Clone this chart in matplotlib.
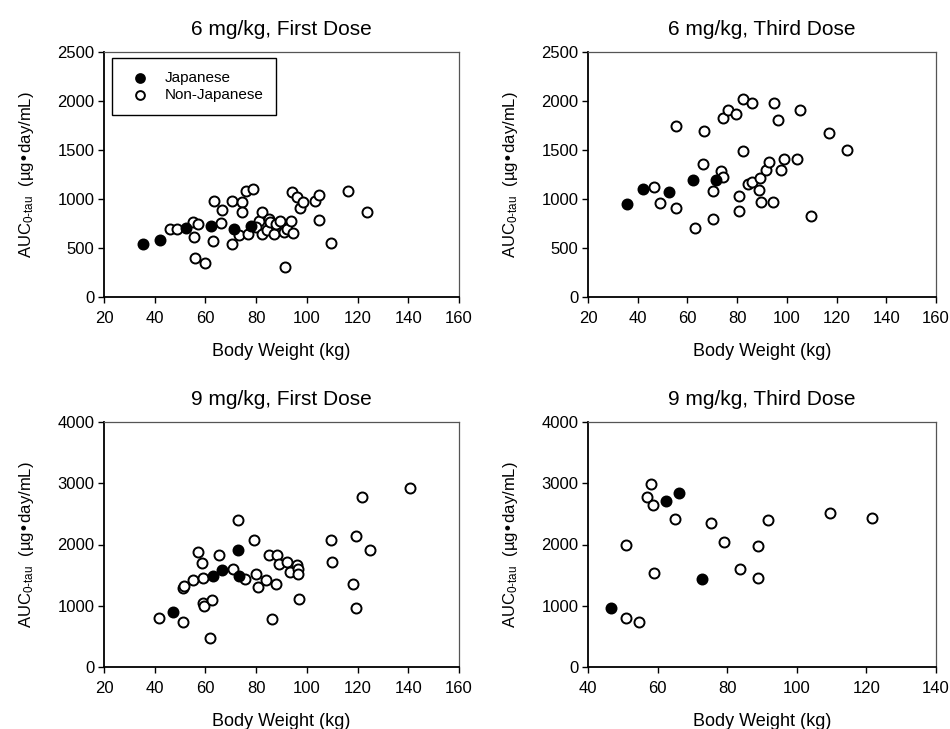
import matplotlib
matplotlib.use('Agg')
import matplotlib.pyplot as plt

plt.rcParams['font.family'] = ['Liberation Sans', 'DejaVu Sans']
plt.rcParams['mathtext.default'] = 'regular'

# 6 mg/kg, first dose
jp_w_6a = [35.4, 42.2, 52.4, 62.0, 71.4, 77.9]
jp_auc_6a = [537, 585, 707, 724, 697, 724]
nj_w_6a = [46.1, 48.8, 55.0, 57.1, 55.3, 55.8, 60.0, 63.1, 63.5, 66.5, 66.0, 70.3,
           70.3, 73.3, 74.6, 74.4, 75.9, 78.9, 76.9, 81.0, 82.3, 80.1, 82.2, 84.1,
           85.1, 85.5, 87.1, 88.0, 89.3, 91.0, 91.2, 92.3, 93.9, 94.6, 94.2, 96.2,
           97.1, 98.4, 103.1, 104.7, 104.7, 109.5, 116.2, 123.8]
nj_auc_6a = [697, 697, 765, 741, 612, 401, 347, 571, 976, 891, 755, 544,
             976, 636, 969, 864, 1081, 1098, 639, 772, 867, 714, 639, 687,
             799, 768, 639, 748, 775, 663, 306, 697, 775, 653, 1071, 1020,
             911, 966, 976, 1037, 789, 551, 1085, 867]

# 6 mg/kg, third dose
jp_w_6c = [35.5, 42.2, 52.4, 62.1, 71.5]
jp_auc_6c = [948, 1098, 1067, 1194, 1194]
nj_w_6c = [46.5, 48.9, 55.3, 55.3, 63.1, 66.1, 66.6, 70.4, 70.4, 73.4, 74.4, 74.4,
           76.3, 79.5, 80.6, 80.9, 82.4, 82.4, 84.4, 85.9, 85.9, 88.7, 89.2, 89.6,
           91.5, 92.7, 94.3, 94.9, 96.6, 97.7, 98.9, 103.9, 105.4, 109.9, 116.8, 124.0]
nj_auc_6c = [1118, 955, 907, 1749, 699, 1354, 1698, 1084, 801, 1286, 1221, 1831,
             1913, 1869, 1026, 876, 1490, 2022, 1156, 1176, 1981, 1091, 1217, 965,
             1299, 1381, 965, 1978, 1804, 1299, 1405, 1412, 1910, 822, 1671, 1497]

# 9 mg/kg, first dose
jp_w_9a = [47.3, 62.8, 66.5, 73.0, 73.1]
jp_auc_9a = [903, 1485, 1578, 1904, 1485]
nj_w_9a = [41.7, 51.3, 51.3, 51.5, 55.0, 57.2, 58.6, 58.9, 59.2, 59.4, 62.6, 61.8,
           65.2, 71.0, 73.0, 75.6, 79.2, 79.8, 80.8, 83.7, 85.2, 86.2, 87.7, 88.1,
           89.0, 92.0, 93.3, 96.3, 96.6, 96.6, 97.0, 109.5, 110.0, 118.3, 119.3,
           119.3, 121.9, 124.8, 140.6]
nj_auc_9a = [805, 729, 1295, 1316, 1414, 1877, 1697, 1458, 1044, 1001, 1099, 479,
             1822, 1605, 2394, 1442, 2078, 1523, 1306, 1425, 1822, 783, 1349, 1822,
             1686, 1714, 1550, 1659, 1599, 1523, 1110, 2067, 1714, 1349, 968,
             2132, 2769, 1915, 2921]

# 9 mg/kg, third dose
jp_w_9c = [46.7, 62.3, 66.1, 72.9]
jp_auc_9c = [968, 2709, 2845, 1431]
nj_w_9c = [51.0, 51.0, 54.6, 57.0, 58.1, 58.7, 59.1, 65.1, 75.4, 79.0, 83.7, 88.8,
           88.8, 91.7, 109.6, 121.5]
nj_auc_9c = [1991, 805, 734, 2774, 2981, 2644, 1534, 2421, 2350, 2040, 1599, 1969,
             1452, 2404, 2519, 2437]

titles = ['6 mg/kg, First Dose', '6 mg/kg, Third Dose',
          '9 mg/kg, First Dose', '9 mg/kg, Third Dose']

W, H = 950, 729
fig = plt.figure(figsize=(W / 100, H / 100), dpi=100)


def add_ax(l, t, r, b):
    return fig.add_axes([l / W, 1 - b / H, (r - l) / W, (b - t) / H])


axes = [add_ax(104, 52, 459, 297), add_ax(588, 52, 936, 297),
        add_ax(104, 422, 459, 667), add_ax(588, 422, 936, 667)]

panels = [(jp_w_6a, jp_auc_6a, nj_w_6a, nj_auc_6a),
          (jp_w_6c, jp_auc_6c, nj_w_6c, nj_auc_6c),
          (jp_w_9a, jp_auc_9a, nj_w_9a, nj_auc_9a),
          (jp_w_9c, jp_auc_9c, nj_w_9c, nj_auc_9c)]

for i, (ax, (jw, ja, nw, na)) in enumerate(zip(axes, panels)):
    ax.scatter(nw, na, s=52, facecolor='white', edgecolor='black', linewidth=1.4,
               zorder=3, label='Non-Japanese')
    ax.scatter(jw, ja, s=52, facecolor='black', edgecolor='black', linewidth=1.4,
               zorder=4, label='Japanese')
    if i < 2:
        ax.set_ylim(0, 2500)
        ax.set_yticks(range(0, 2501, 500))
    else:
        ax.set_ylim(0, 4000)
        ax.set_yticks(range(0, 4001, 1000))
    if i == 3:
        ax.set_xlim(40, 140)
        ax.set_xticks(range(40, 141, 20))
    else:
        ax.set_xlim(20, 160)
        ax.set_xticks(range(20, 161, 20))
    ax.set_title(titles[i], fontsize=15, pad=12)
    ax.set_xlabel('Body Weight (kg)', fontsize=13, labelpad=12)
    ax.set_ylabel('AUC$_{0‐tau}$  (µg•day/mL)', fontsize=12, labelpad=15)
    ax.tick_params(direction='out', length=4, width=1, labelsize=12)
    ax.tick_params(axis='x', pad=6)
    ax.tick_params(axis='y', pad=3)
    for side in ['left', 'bottom']:
        ax.spines[side].set_linewidth(1.3)
    for side in ['top', 'right']:
        ax.spines[side].set_linewidth(0.9)
        ax.spines[side].set_color('#555555')

h, l = axes[0].get_legend_handles_labels()
leg = axes[0].legend(h[::-1], l[::-1], loc='upper left', fontsize=11,
                     bbox_to_anchor=(0.022, 0.975), borderpad=0.85, labelspacing=0.2,
                     handletextpad=0.6, fancybox=False, framealpha=1,
                     edgecolor='black', borderaxespad=0.0)
leg.get_frame().set_linewidth(1.0)
for hd in leg.legend_handles:
    hd.set_sizes([40])

fig.savefig('out.png', dpi=100)
